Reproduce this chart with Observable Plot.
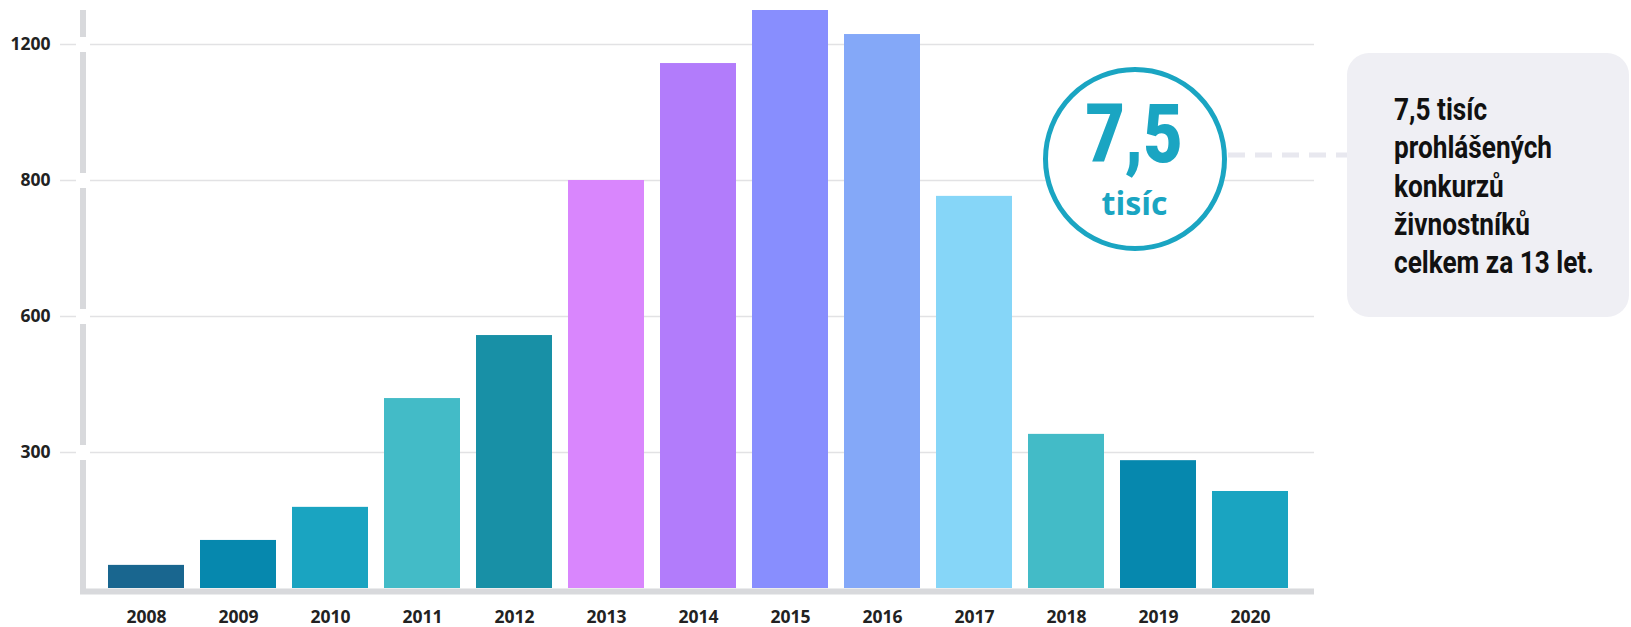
<!DOCTYPE html>
<html><head><meta charset="utf-8">
<script src="https://cdn.jsdelivr.net/npm/d3@7"></script>
<script src="https://cdn.jsdelivr.net/npm/@observablehq/plot@0.6"></script>
<style>
html,body{margin:0;padding:0;background:#fff;}
#wrap{position:relative;width:1631px;height:627px;overflow:hidden;}
</style></head><body><div id="wrap"></div>
<script>
const years = ["2008","2009","2010","2011","2012","2013","2014","2015","2016","2017","2018","2019","2020"];
const counts = [51, 106, 179, 419, 558, 900, 1158, 1275, 1222, 865, 340, 282, 214];
const barColors = ["#19668f","#0688ae","#1aa4c1","#43bbc7","#1890a6","#d986fd","#b27cfb","#888efe","#84a8f8","#86d6f8","#43bbc7","#0688ae","#1aa4c1"];
const yTicks = [300, 600, 900, 1200];
const yTickLabels = ["300", "600", "800", "1200"];
const totalValue = "7,5";
const totalUnit = "tisíc";
const noteLines = ["7,5 tisíc", "prohlášených", "konkurzů", "živnostníků", "celkem za 13 let."];

const data = years.map((year, i) => ({year, count: counts[i], color: barColors[i]}));
const W = 1631, H = 627;
const axisGray = "#d8d9dc";
const teal = "#1aa5c2";
const font = "'Open Sans', 'Noto Sans', sans-serif";

const chart = Plot.plot({
  width: W, height: H,
  marginLeft: 60, marginRight: 317, marginTop: 44, marginBottom: 39,
  x: {type: "band", domain: years, range: [91, 1305], padding: 0.175, label: null},
  y: {domain: [0, 1200], range: [588, 44], label: null},
  color: {type: "identity"},
  style: {fontFamily: font, background: "#fff", color: "#222"},
  marks: [
    Plot.ruleY(yTicks, {stroke: "#e2e2e4", strokeWidth: 1.5}),
    Plot.rect([0], {y1: () => 0, y2: () => d3.max(counts), insetLeft: 20, insetRight: 1228, insetBottom: -6, fill: axisGray}),
    Plot.ruleY(yTicks, {stroke: "#fff", strokeWidth: 15, insetLeft: 16, insetRight: 1224}),
    Plot.barY(data, {x: "year", y: "count", fill: "color"}),
    Plot.ruleY([0], {stroke: axisGray, strokeWidth: 6, dy: 3, insetLeft: 20}),
    Plot.axisY(yTicks, {tickSize: 0, tickPadding: 10, label: null, tickFormat: d => yTickLabels[yTicks.indexOf(d)], fontSize: 17.5, fontWeight: 700, fill: "#222"}),
    Plot.axisX({tickSize: 0, tickPadding: 22, label: null, fontSize: 17.5, fontWeight: 700, fill: "#222"})
  ]
});
const wrap = document.getElementById("wrap");
wrap.appendChild(chart);

// annotation overlay
const ann = d3.create("svg").attr("width", W).attr("height", H)
  .style("position", "absolute").style("left", "0px").style("top", "0px");
wrap.appendChild(ann.node());
ann.append("line").attr("x1", 1228).attr("x2", 1347).attr("y1", 155).attr("y2", 155)
  .attr("stroke", "#e8e8ef").attr("stroke-width", 5).attr("stroke-dasharray", "17 10");
ann.append("rect").attr("x", 1347).attr("y", 53).attr("width", 282).attr("height", 264).attr("rx", 22).attr("fill", "#efeff4");
ann.append("circle").attr("cx", 1135).attr("cy", 159).attr("r", 89.5).attr("fill", "#fff").attr("stroke", teal).attr("stroke-width", 5);

function fitText(g, txt, size, weight, family, target, anchor, fill) {
  const t = g.append("text").text(txt).attr("font-size", size).attr("font-weight", weight)
    .attr("font-family", family).attr("text-anchor", anchor).attr("fill", fill);
  const w = t.node().getComputedTextLength();
  return target / w;
}
const g1 = ann.append("g");
const s1 = fitText(g1, totalValue, 82, 900, "Roboto, 'Open Sans', sans-serif", 97, "middle", teal);
g1.attr("transform", `translate(1134,162) scale(${s1},1)`);
const g2 = ann.append("g");
const s2 = fitText(g2, totalUnit, 33, 700, font, 66, "middle", teal);
g2.attr("transform", `translate(1134.5,215) scale(${s2},1)`);

const noteFont = "Roboto, 'Liberation Sans', sans-serif";
const g3 = ann.append("g");
const noteTexts = noteLines.map((line, i) => g3.append("text").text(line).attr("x", 0).attr("y", 120 + i * 38.3)
    .attr("font-size", 31).attr("font-weight", 700).attr("font-family", noteFont).attr("fill", "#111"));
const measured = d3.sum(noteTexts, t => t.node().getComputedTextLength());
const s3 = (91 + 162 + 110 + 138 + 196) / measured;
g3.attr("transform", `translate(1394,0) scale(${s3},1)`);
</script></body></html>
